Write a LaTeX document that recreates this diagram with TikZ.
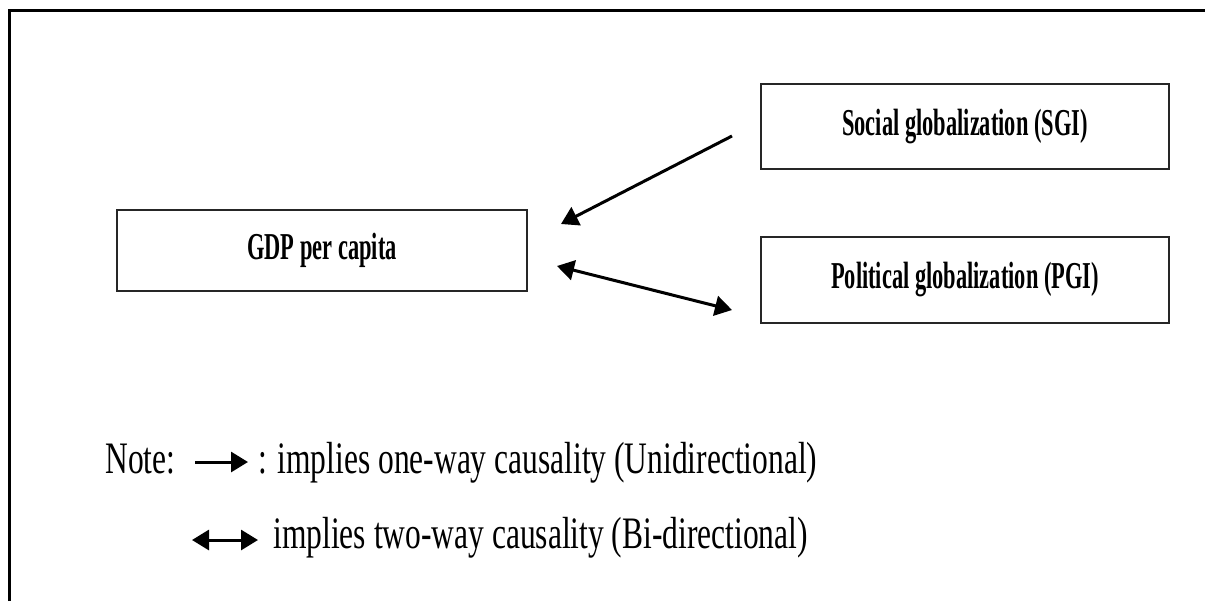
\documentclass[tikz,border=0pt]{standalone}
\usepackage{fontspec}
\newfontfamily\notefont[FakeStretch=0.7]{Liberation Serif}
\newfontfamily\boxfont[FakeStretch=0.59]{Liberation Serif}
\usetikzlibrary{arrows.meta,calc}
\tikzset{
  box/.style={draw=black!85, line width=1pt, inner sep=0pt, font=\boxfont\bfseries\fontsize{19}{22}\selectfont},
  conn/.style={line width=1.5pt, -{Triangle[length=8.5pt,width=10pt]}},
  biconn/.style={line width=1.5pt, {Triangle[length=8.5pt,width=10pt]}-{Triangle[length=8.5pt,width=10pt]}},
  notetext/.style={inner sep=0pt, anchor=base west, font=\notefont\fontsize{22.5}{27}\selectfont},
  frame/.style={line width=1.5pt}
}
\begin{document}
\begin{tikzpicture}[x=0.5pt,y=-0.5pt]
\useasboundingbox (0,0) rectangle (1205,601);
\fill[white] (0,0) rectangle (1205,601);
\draw[frame] (9.5,601) -- (9.5,10) -- (1205,10);

\node[box, minimum width=205pt, minimum height=40.5pt] (gdp) at (322,250.5) {GDP per capita};
\node[box, minimum width=204pt, minimum height=42.5pt] (sgi) at (965,126.5) {Social globalization (SGI)};
\node[box, minimum width=204pt, minimum height=43pt] (pgi) at (965,280) {Political globalization (PGI)};

\draw[conn] ($(sgi.west)+(-28,9.5)$) -- ($(gdp.east)+(33,-26.5)$);
\draw[biconn] ($(gdp.east)+(29,15.5)$) -- ($(pgi.west)+(-28,30)$);

\node[notetext] (note) at (105,473) {Note:};
\coordinate (n1a) at (195,462);
\coordinate (n1b) at (248,462);
\draw[conn] (n1a) -- (n1b);
\node[notetext] (l1) at (258,473) {: implies one-way causality (Unidirectional)};
\coordinate (n2a) at (192,540);
\coordinate (n2b) at (258,540);
\draw[biconn] (n2a) -- (n2b);
\node[notetext] (l2) at (273,548) {implies two-way causality (Bi-directional)};
\end{tikzpicture}
\end{document}
